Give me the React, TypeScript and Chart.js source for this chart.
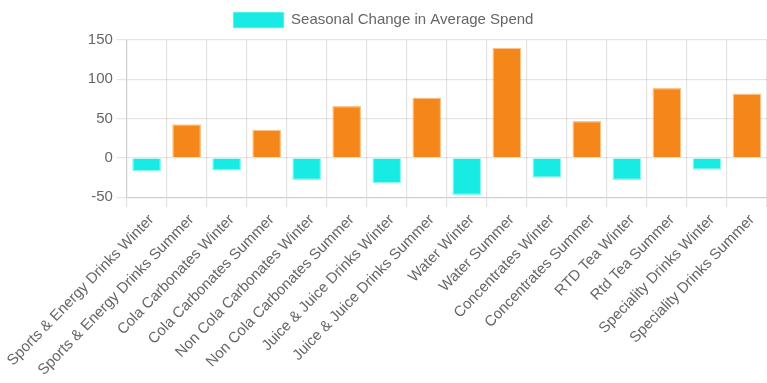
import React, { useEffect, useRef } from "react";
import { Chart, registerables } from "chart.js";

Chart.register(...registerables);

const categories = [
  "Sports & Energy Drinks Winter",
  "Sports & Energy Drinks Summer",
  "Cola Carbonates Winter",
  "Cola Carbonates Summer",
  "Non Cola Carbonates Winter",
  "Non Cola Carbonates Summer",
  "Juice & Juice Drinks Winter",
  "Juice & Juice Drinks Summer",
  "Water Winter",
  "Water Summer",
  "Concentrates Winter",
  "Concentrates Summer",
  "RTD Tea Winter",
  "Rtd Tea Summer",
  "Speciality Drinks Winter",
  "Speciality Drinks Summer",
];

const values = [-17, 43, -16, 36, -28, 66, -32, 77, -47, 140, -25, 47, -28, 89, -15, 82];

const seriesLabel = "Seasonal Change in Average Spend";

const winterColor = "#17ebe4";
const summerColor = "#f5871a";

const SCALE = 1.25;

export default function App() {
  const ref = useRef<HTMLCanvasElement>(null);
  useEffect(() => {
    if (!ref.current) return;
    const bg = values.map((_, i) => (i % 2 === 0 ? winterColor : summerColor));
    const border = values.map((_, i) =>
      i % 2 === 0 ? "rgba(23,235,228,0.5)" : "rgba(245,135,26,0.5)"
    );
    const chart = new Chart(ref.current, {
      type: "bar",
      data: {
        labels: categories,
        datasets: [
          {
            label: seriesLabel,
            data: values,
            backgroundColor: bg,
            borderColor: border,
            borderWidth: 1,
          },
        ],
      },
      options: {
        animation: false,
        responsive: true,
        maintainAspectRatio: false,
        devicePixelRatio: SCALE,
        plugins: {
          legend: {
            labels: { color: "#666", font: { size: 12 } },
          },
        },
        scales: {
          x: {
            ticks: { color: "#666", font: { size: 12 }, autoSkip: false, labelOffset: 4 },
          },
          y: {
            min: -50,
            max: 150,
            ticks: { color: "#666", font: { size: 12 }, stepSize: 50 },
          },
        },
      },
    });
    return () => chart.destroy();
  }, []);
  return (
    <div
      style={{
        position: "fixed",
        left: 0,
        top: 0,
        width: `${767 / SCALE}px`,
        height: `${383 / SCALE}px`,
        transform: `scale(${SCALE})`,
        transformOrigin: "0 0",
      }}
    >
      <canvas ref={ref} />
    </div>
  );
}
